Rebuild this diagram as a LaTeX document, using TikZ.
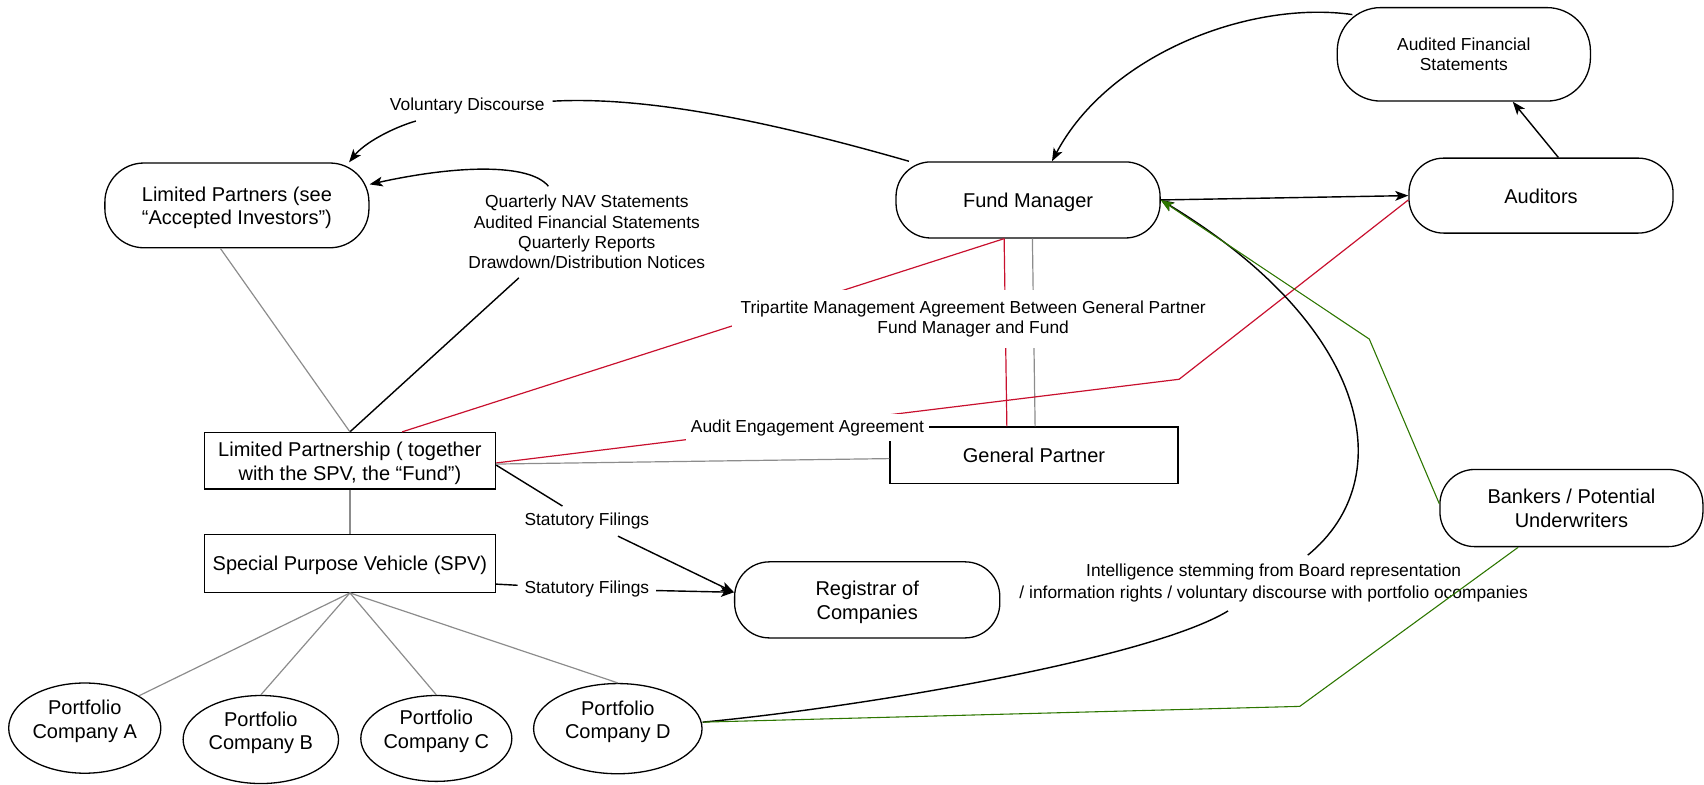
\documentclass[tikz,border=0pt]{standalone}
\usepackage{fontspec}
\setmainfont{Liberation Sans}
\usetikzlibrary{arrows.meta,shapes.geometric}
\definecolor{agred}{HTML}{C8102E}
\definecolor{aggreen}{HTML}{2D7600}
\definecolor{aggrey}{HTML}{8C8C8C}
\newcommand{\mainfs}{\fontsize{9.2}{10.8}\selectfont}
\newcommand{\smallfs}{\fontsize{8}{9.3}\selectfont}
\newcommand{\lowr}[1]{\raisebox{-1.3pt}[\height][\depth]{\begin{tabular}{@{}c@{}}#1\end{tabular}}}
\begin{document}
\begin{tikzpicture}[x=0.5pt,y=-0.5pt,
  stad/.style={draw,line width=0.6pt,align=center,font=\mainfs,inner sep=0pt},
  rectbox/.style={draw,line width=0.6pt,align=center,font=\mainfs,inner sep=0pt},
  ell/.style={draw,ellipse,line width=0.6pt,inner sep=0pt},
  elltext/.style={font=\mainfs,align=center,yshift=3.2pt},
  lbl/.style={font=\smallfs,align=center,inner sep=3pt},
  kline/.style={draw=black,line width=0.65pt},
  gline/.style={draw=aggrey,line width=0.55pt},
  rline/.style={draw=agred,line width=0.55pt},
  gnline/.style={draw=aggreen,line width=0.5pt},
  arr/.style={-{Stealth[length=6pt,width=4.5pt,inset=1.5pt]}}]
\useasboundingbox (0,0) rectangle (1568,722);

% main nodes
\node[stad,minimum width=121.5pt,minimum height=39pt,rounded corners=18pt] (lp) at (218,189) {\lowr{Limited Partners (see\\“Accepted Investors”)}};
\node[stad,minimum width=121.5pt,minimum height=35pt,rounded corners=16pt] (fm) at (946,184) {\lowr{Fund Manager}};
\node[stad,minimum width=121.5pt,minimum height=34.5pt,rounded corners=16pt] (aud) at (1418,180) {\lowr{Auditors}};
\node[stad,minimum width=116.5pt,minimum height=43pt,rounded corners=20pt,font=\smallfs] (afs) at (1347,50) {Audited Financial\\Statements};
\node[stad,minimum width=122pt,minimum height=35pt,rounded corners=16pt] (reg) at (798,552) {\lowr{Registrar of\\Companies}};
\node[stad,minimum width=121pt,minimum height=35.5pt,rounded corners=16pt] (bk) at (1446,467.5) {\lowr{Bankers / Potential\\Underwriters}};
\node[rectbox,minimum width=134pt,minimum height=26pt] (lpship) at (322,424) {\lowr{Limited Partnership ( together\\with the SPV, the “Fund”)}};
\node[rectbox,minimum width=134pt,minimum height=26.5pt] (spv) at (322,518.5) {\lowr{Special Purpose Vehicle (SPV)}};
\node[rectbox,minimum width=132.5pt,minimum height=26pt] (gp) at (951.5,419) {\lowr{General Partner}};
\node[ell,minimum width=70pt,minimum height=41.5pt,label={[elltext]center:Portfolio\\Company A}] (pa) at (78,670) {};
\node[ell,minimum width=71.5pt,minimum height=40.5pt,label={[elltext]center:Portfolio\\Company B}] (pb) at (240,680.5) {};
\node[ell,minimum width=69.5pt,minimum height=39.5pt,label={[elltext]center:Portfolio\\Company C}] (pc) at (401.5,679.5) {};
\node[ell,minimum width=77.5pt,minimum height=41.5pt,label={[elltext]center:Portfolio\\Company D}] (pd) at (568.5,670.5) {};

% edge labels that connectors run through
\node[lbl,inner xsep=3.5pt] (vd) at (430,97.5) {Voluntary Discourse};
\node[lbl,inner sep=4pt] (q) at (540,213.5) {Quarterly NAV Statements\\Audited Financial Statements\\Quarterly Reports\\Drawdown/Distribution Notices};
\node[lbl] (sf1) at (540,479.5) {Statutory Filings};
\node[lbl] (sf2) at (540,542) {Statutory Filings};
\node[lbl,inner xsep=3pt,inner ysep=4pt,font=\fontsize{8}{9.8}\selectfont] (int) at (1172,536.5) {Intelligence stemming from Board representation\\/ information rights / voluntary discourse with portfolio ocompanies};

% connectors
\draw[kline,arr] (fm.162) .. controls (720,115) and (600,88) .. (vd) .. controls (360,118) and (335,132) .. (lp.21);
\draw[kline,arr] (q.130) .. controls (487,150) and (420,152) .. (lp.9);
\draw[kline] (lpship.north) -- (q.214);
\draw[gline] (lp.249) -- (lpship.north);

\draw[rline] (lpship.29) -- ([xshift=-11pt]fm.south);
\draw[rline] ([xshift=-11pt]fm.south) -- ([xshift=-12.5pt]gp.north);
\draw[gline] ([xshift=2pt]fm.south) -- ([xshift=0.5pt]gp.north);
\draw[rline] ([yshift=-1pt]lpship.east) -- (1085,349) -- ([yshift=-2pt]aud.west);
\draw[gline] ([yshift=-1.5pt]lpship.east) -- ([yshift=-1.5pt]gp.west);

\draw[kline,arr] ([yshift=-2pt]lpship.east) -- (sf1) -- ([yshift=3.5pt]reg.west);
\draw[kline,arr] ([yshift=-9.5pt]spv.east) -- (sf2) -- ([yshift=3.5pt]reg.west);

\draw[gline] (lpship.south) -- (spv.north);
\draw[gline] (spv.south) -- (pa.north east);
\draw[gline] (spv.south) -- (pb.north);
\draw[gline] (spv.south) -- (pc.north);
\draw[gline] (spv.south) -- (pd.north);

\draw[kline,arr] (fm.east) -- (aud.west);
\draw[kline,arr] ([xshift=8pt]aud.north) -- ([xshift=22.5pt]afs.south);
\draw[kline,arr] ([xshift=7.25pt,yshift=-3.5pt]afs.north west) .. controls (1150,0) and (1020,50) .. ([xshift=11pt]fm.north);

\draw[kline,arr] ([yshift=3pt]pd.east) .. controls (800,650) and (1060,605) .. (int) .. controls (1290,440) and (1260,300) .. (fm.east);
\draw[gnline,arr] ([yshift=2pt]bk.west) -- (1260,312) -- (fm.east);
\draw[gnline] ([yshift=3pt]pd.east) -- (1196,650) -- ([xshift=-24.5pt]bk.south);

% labels with white background on top of connectors
\node[lbl,fill=white,inner xsep=4pt,inner ysep=5pt] (tri) at (895.5,293.5) {Tripartite Management Agreement Between General Partner\\Fund Manager and Fund};
\node[lbl,fill=white,inner sep=2.5pt] (ae) at (743,393.5) {Audit Engagement Agreement};
\end{tikzpicture}
\end{document}
